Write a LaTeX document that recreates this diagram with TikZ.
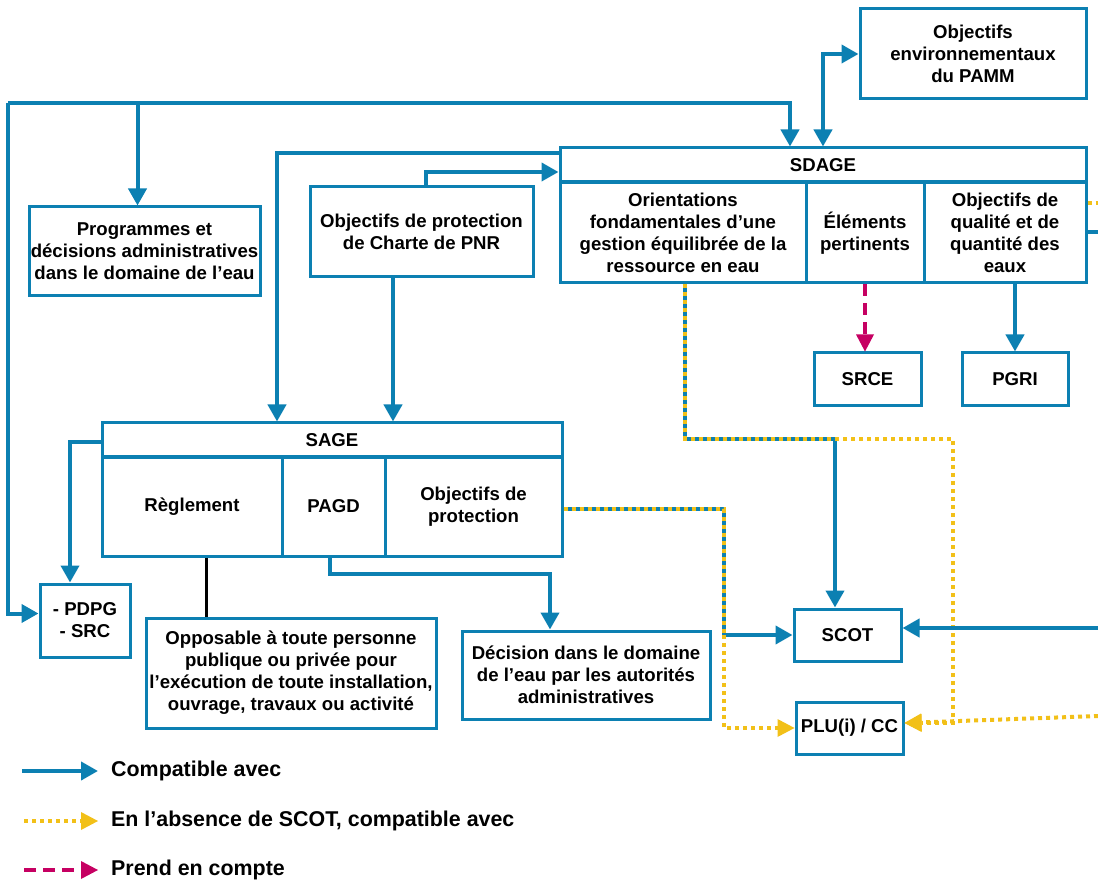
\documentclass[tikz,border=0pt]{standalone}
\usepackage{fontspec}
\setmainfont{Liberation Sans}
\usepackage{xcolor}
\usetikzlibrary{arrows.meta,calc}
\definecolor{bleu}{RGB}{12,128,178}
\definecolor{jaune}{RGB}{242,192,24}
\definecolor{rose}{RGB}{198,0,98}

\begin{document}
\begin{tikzpicture}[x=1pt,y=-1pt,
  font=\bfseries\fontsize{18.6}{22}\selectfont,
  box/.style={draw=bleu,line width=3pt,fill=white,align=center,inner sep=0pt,text=black},
  compat/.style={draw=bleu,line width=4pt,-{Triangle[length=17pt,width=18pt]}},
  compatline/.style={draw=bleu,line width=4pt},
  absence/.style={draw=jaune,line width=4pt,dash pattern=on 4pt off 4pt,-{Triangle[length=17pt,width=18pt,fill=jaune,line width=0pt]}},
  absenceline/.style={draw=jaune,line width=4pt,dash pattern=on 4pt off 4pt},
  prise/.style={draw=rose,line width=4pt,dash pattern=on 12pt off 7pt,-{Triangle[length=17pt,width=18pt,fill=rose,line width=0pt]}},
  legtxt/.style={anchor=west,inner sep=0pt,font=\bfseries\fontsize{21.4}{24}\selectfont,text=black}
]
\useasboundingbox (0,0) rectangle (1098,882);

% boites
\node[box,minimum width=226pt,minimum height=90pt] (pamm) at (973,54) {Objectifs\\environnementaux\\du PAMM};
\node[box,minimum width=526pt,minimum height=34pt] (sdage) at (823,165) {SDAGE};
\node[box,minimum width=246pt,minimum height=100pt] (orient) at (683,233) {Orientations\\fondamentales d’une\\gestion équilibrée de la\\ressource en eau};
\node[box,minimum width=118pt,minimum height=100pt] (elem) at (865,233) {Éléments\\pertinents};
\node[box,minimum width=162pt,minimum height=100pt] (qual) at (1005,233) {Objectifs de\\qualité et de\\quantité des\\eaux};
\node[box,minimum width=231pt,minimum height=89pt] (prog) at (144.5,251.5) {Programmes et\\décisions administratives\\dans le domaine de l’eau};
\node[box,minimum width=223pt,minimum height=90pt] (pnr) at (421.5,232) {Objectifs de protection\\de Charte de PNR};
\node[box,minimum width=107pt,minimum height=53pt] (srce) at (867.5,379.5) {SRCE};
\node[box,minimum width=106pt,minimum height=53pt] (pgri) at (1015,379.5) {PGRI};
\node[box,minimum width=460pt,minimum height=34pt] (sage) at (332,440) {SAGE};
\node[box,minimum width=180pt,minimum height=99pt] (regl) at (192,506.5) {Règlement};
\node[box,minimum width=103pt,minimum height=99pt] (pagd) at (333.5,506.5) {PAGD};
\node[box,minimum width=177pt,minimum height=99pt] (objprot) at (473.5,506.5) {Objectifs de\\protection};
\node[box,minimum width=90pt,minimum height=73pt] (pdpg) at (85,620.5) {- PDPG\\- SRC};
\node[box,minimum width=290pt,minimum height=110pt] (oppo) at (291,673) {Opposable à toute personne\\publique ou privée pour\\l’exécution de toute installation,\\ouvrage, travaux ou activité};
\node[box,minimum width=248pt,minimum height=88pt] (deci) at (586,675) {Décision dans le domaine\\de l’eau par les autorités\\administratives};
\node[box,minimum width=107pt,minimum height=52pt] (scot) at (847.5,635) {SCOT};
\node[box,minimum width=107pt,minimum height=52pt] (plu) at (849.5,728) {PLU(i) / CC};

% points de passage
\coordinate (loopL) at (8,103);
\coordinate (j1) at (835,439);
\coordinate (j2) at (724,635);
\coordinate (offA) at (1098,628);
\coordinate (offB) at (1098,716);
\coordinate (offC) at (1098,232);
\coordinate (offD) at (1098,203);

% liens compatibles
\draw[compat] (loopL) -| ([xshift=-33pt]sdage.north);
\draw[compat] (loopL) |- ([yshift=7pt]pdpg.west);
\draw[compat] ([xshift=-7pt]prog.north |- loopL) -- ([xshift=-7pt]prog.north);
\draw[compatline,{Triangle[length=17pt,width=18pt]}-{Triangle[length=17pt,width=18pt]}] (sdage.north) |- (pamm.west);
\draw[compat] ([xshift=4.5pt]pnr.north) |- ([yshift=-7pt]sdage.west);
\draw[compat] ([yshift=12pt]sdage.west) -| ([xshift=-55pt]sage.north);
\draw[compat] ([xshift=-28.5pt]pnr.south) -- ([xshift=-28.5pt]pnr.south |- sage.north);
\draw[compat] ([yshift=-2pt]sage.west) -| ([xshift=-15pt]pdpg.north);
\draw[black,line width=3pt] ([xshift=14pt]regl.south) -- ([xshift=14pt]regl.south |- oppo.north);
\draw[compat] ([xshift=-3.5pt]pagd.south) -- ++(0,16) -| ([xshift=-36pt]deci.north);
\draw[compat] (pgri.north |- qual.south) -- (pgri.north);
\draw[prise] (elem.south) -- (elem.south |- srce.north);

% lignes doubles bleu / jaune
\draw[compatline] ([xshift=2pt]orient.south) |- (j1);
\draw[absenceline] ([xshift=2pt]orient.south) |- (j1);
\draw[compat] (j1) -- (j1 |- scot.north);
\draw[absence] (j1) -- (953,439) |- ([yshift=5pt]plu.east);
\draw[compatline] ([yshift=-2.5pt]objprot.east) -| (j2);
\draw[absenceline] ([yshift=-2.5pt]objprot.east) -| (j2);
\draw[compat] (j2) -- (scot.west);
\draw[absence] (j2) |- (plu.west);

% vers le bord droit
\draw[compat] (offA) -- ([yshift=7pt]scot.east);
\draw[absence] (offB) -- ([yshift=5pt]plu.east);
\draw[compatline] (qual.east |- offC) -- (offC);
\draw[absenceline] (qual.east |- offD) -- (offD);

% legende
\node[legtxt] (leg1) at (111,771) {Compatible avec};
\node[legtxt] (leg2) at (111,821) {En l’absence de SCOT, compatible avec};
\node[legtxt] (leg3) at (111,870) {Prend en compte};
\coordinate (l1) at (22,771);
\coordinate (l2) at (24,821);
\coordinate (l3) at (24,870);
\draw[compat] (l1) -- ([xshift=-13pt]leg1.west);
\draw[absence] (l2) -- ([xshift=-13pt]leg2.west);
\draw[prise] (l3) -- ([xshift=-13pt]leg3.west);
\end{tikzpicture}
\end{document}
